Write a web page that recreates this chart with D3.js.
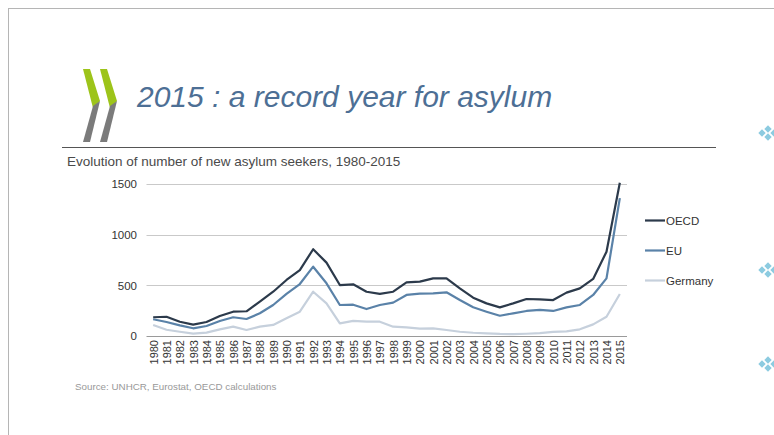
<!DOCTYPE html>
<html><head><meta charset="utf-8">
<script src="https://cdn.jsdelivr.net/npm/d3@7"></script>
<style>
html,body{margin:0;padding:0;background:#fff;}
svg{display:block;font-family:"Liberation Sans",Arial,sans-serif;}
</style></head>
<body><svg id="c" width="774" height="435"></svg>
<script>
const years = d3.range(1980, 2016).map(String);
const oecd = [185,190,141,112,138,197,240,244,339,437,553,651,856,724,503,510,437,415,437,530,536,569,569,470,378,322,283,322,365,362,355,428,470,563,832,1513];
const eu = [165,138,105,76,99,148,185,168,224,306,415,513,684,520,306,309,266,306,329,405,418,421,431,355,283,240,200,224,247,257,247,283,306,405,569,1360];
const germany = [108,62,42,24,33,66,92,59,92,109,175,240,437,322,125,150,141,141,92,86,72,76,59,42,32,26,20,18,22,28,40,46,66,115,190,415];
const yTicks = [0,500,1000,1500];
const seriesNames = ["OECD","EU","Germany"];
const seriesColors = ["#2c3a4b","#5a82a8","#c6d0dc"];
const seriesData = [oecd, eu, germany];

const svg = d3.select("#c");
// slide frame
svg.append("line").attr("x1",8).attr("x2",774).attr("y1",8.5).attr("y2",8.5).attr("stroke","#b5b5b5").attr("stroke-width",1);
svg.append("line").attr("x1",8.5).attr("x2",8.5).attr("y1",8).attr("y2",435).attr("stroke","#b5b5b5").attr("stroke-width",1);

// OECD logo chevrons
const logo = svg.append("g");
[83,100].forEach(x0=>{
  logo.append("path").attr("d",`M${x0},69 L${x0+7},69 L${x0+17},101 L${x0+10},108 Z`).attr("fill","#9dc41a");
  logo.append("path").attr("d",`M${x0+10},106 L${x0+17},101 L${x0+7},142 L${x0},142 Z`).attr("fill","#7b7b7b");
});

// title
svg.append("text").attr("x",137).attr("y",107).attr("font-size",30).attr("font-style","italic")
  .attr("fill","#4d6f95").text("2015 : a record year for asylum");
svg.append("line").attr("x1",62).attr("x2",716).attr("y1",147.5).attr("y2",147.5).attr("stroke","#555").attr("stroke-width",1);
svg.append("text").attr("x",67).attr("y",166).attr("font-size",13.5).attr("fill","#4a4a4a")
  .text("Evolution of number of new asylum seekers, 1980-2015");

// decorative bullets on right
[133,270,364].forEach(cy=>{
  const g = svg.append("g").attr("fill","#8ccbe0");
  [[2,-4],[-4,0],[2,4],[8,0]].forEach(([dx,dy])=>{
    g.append("rect").attr("x",-2.6).attr("y",-2.6).attr("width",5.2).attr("height",5.2)
      .attr("transform",`translate(${766+dx},${cy+dy}) rotate(45)`);
  });
});

const x = d3.scalePoint().domain(years).range([146.5,626.5]).padding(0.5);
const y = d3.scaleLinear().domain([0,1500]).range([336,184]);

// gridlines
svg.append("g").selectAll("line").data(yTicks.filter(d=>d>0)).join("line")
  .attr("x1",146.5).attr("x2",627).attr("y1",d=>Math.round(y(d))+0.5).attr("y2",d=>Math.round(y(d))+0.5)
  .attr("stroke","#c9c9c9").attr("stroke-width",1);
svg.append("line").attr("x1",146.5).attr("x2",627).attr("y1",336.5).attr("y2",336.5).attr("stroke","#9a9a9a");

// y labels
const yAxis = d3.axisLeft(y).tickValues(yTicks).tickSize(0).tickPadding(0).tickFormat(d3.format("d"));
const ya = svg.append("g").attr("transform","translate(137,0)").call(yAxis);
ya.select(".domain").remove();
ya.selectAll("text").attr("font-size",11.5).attr("fill","#333").attr("font-family","'Liberation Sans',Arial,sans-serif");

// x labels
const xAxis = d3.axisBottom(x).tickSize(0).tickPadding(0);
const xa = svg.append("g").attr("transform","translate(0,340)").call(xAxis);
xa.select(".domain").remove();
xa.selectAll("text").attr("font-size",11).attr("fill","#333").attr("font-family","'Liberation Sans',Arial,sans-serif")
  .attr("transform","rotate(-90)").attr("text-anchor","end").attr("dy","0.35em").attr("x",0).attr("y",0);

// lines
const line = d3.line().x((d,i)=>x(years[i])).y(d=>y(d));
[2,1,0].forEach(i=>{
  svg.append("path").datum(seriesData[i]).attr("d",line).attr("fill","none")
    .attr("stroke",seriesColors[i]).attr("stroke-width",2.2).attr("stroke-linejoin","round");
});

// legend
const lg = svg.append("g");
seriesNames.forEach((n,i)=>{
  const ly = 220.5 + i*30;
  lg.append("line").attr("x1",645).attr("x2",665).attr("y1",ly).attr("y2",ly).attr("stroke",seriesColors[i]).attr("stroke-width",2.2);
  lg.append("text").attr("x",666).attr("y",ly).attr("dy","0.35em").attr("font-size",11.5).attr("fill","#333").text(n);
});

svg.append("text").attr("x",75).attr("y",390).attr("font-size",9.8).attr("fill","#999")
  .text("Source: UNHCR, Eurostat, OECD calculations");
</script></body></html>
